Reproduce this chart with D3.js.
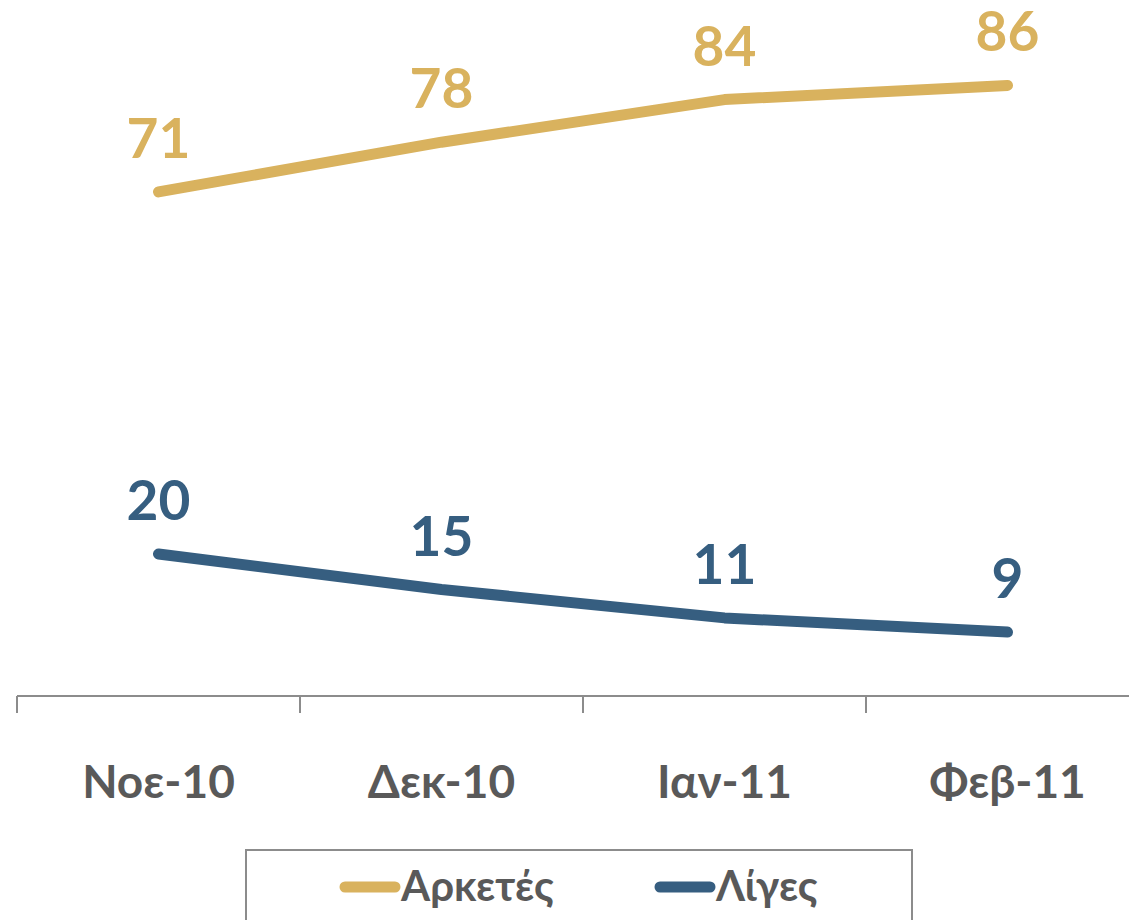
<!DOCTYPE html>
<html>
<head>
<meta charset="utf-8">
<script src="https://cdn.jsdelivr.net/npm/d3@7"></script>
<style>
  body { margin: 0; background: #fff; }
  svg { display: block; font-family: Lato, "Open Sans", sans-serif; }
</style>
</head>
<body>
<svg id="chart" width="1129" height="920"></svg>
<script>
const months = ["Νοε-10", "Δεκ-10", "Ιαν-11", "Φεβ-11"];
const arketes = [71, 78, 84, 86];
const liges = [20, 15, 11, 9];
const seriesNames = ["Αρκετές", "Λίγες"];
const seriesColors = ["#d9b25e", "#365e80"];

const width = 1129, height = 920;
const svg = d3.select("#chart");

const x = d3.scaleBand().domain(months).range([17, 1149]);
const y = d3.scaleLinear().domain([0, 100]).range([696, -14]);

// axis
const axis = svg.append("g").attr("transform", `translate(0,${y(0)})`);
axis.append("line")
    .attr("x1", 17).attr("x2", width)
    .attr("stroke", "#8c8c8c").attr("stroke-width", 2);
axis.selectAll("line.tick")
    .data(months.concat(["end"]))
    .enter().append("line")
    .attr("class", "tick")
    .attr("x1", (d, i) => 17 + i * x.bandwidth())
    .attr("x2", (d, i) => 17 + i * x.bandwidth())
    .attr("y1", 0).attr("y2", 17)
    .attr("stroke", "#8c8c8c").attr("stroke-width", 2);
axis.selectAll("text")
    .data(months)
    .enter().append("text")
    .attr("x", d => x(d) + x.bandwidth() / 2)
    .attr("y", 102)
    .attr("text-anchor", "middle")
    .attr("fill", "#595959")
    .style("font-size", "46px")
    .style("font-weight", "bold")
    .text(d => d);

const series = [arketes, liges];
const line = d3.line()
    .x((d, i) => x(months[i]) + x.bandwidth() / 2)
    .y(d => y(d));

series.forEach((vals, s) => {
    svg.append("path")
        .attr("d", line(vals))
        .attr("fill", "none")
        .attr("stroke", seriesColors[s])
        .attr("stroke-width", 11)
        .attr("stroke-linecap", "round")
        .attr("stroke-linejoin", "round");

    svg.selectAll(null)
        .data(vals)
        .enter().append("text")
        .attr("x", (d, i) => x(months[i]) + x.bandwidth() / 2)
        .attr("y", d => y(d) - 34)
        .attr("text-anchor", "middle")
        .attr("fill", seriesColors[s])
        .style("font-size", "55px")
        .style("font-weight", "bold")
        .text(d => d);
});

// legend
const legend = svg.append("g");
legend.append("rect")
    .attr("x", 246).attr("y", 850)
    .attr("width", 666).attr("height", 100)
    .attr("fill", "none")
    .attr("stroke", "#8c8c8c").attr("stroke-width", 2);

const legendX = [340, 655];
seriesNames.forEach((name, s) => {
    legend.append("line")
        .attr("x1", legendX[s] + 5).attr("x2", legendX[s] + 55)
        .attr("y1", 887).attr("y2", 887)
        .attr("stroke", seriesColors[s])
        .attr("stroke-width", 11)
        .attr("stroke-linecap", "round");
    legend.append("text")
        .attr("x", legendX[s] + 61)
        .attr("y", 901)
        .attr("fill", "#595959")
        .style("font-size", "42px")
        .style("font-weight", "bold")
        .text(name);
});
</script>
</body>
</html>
